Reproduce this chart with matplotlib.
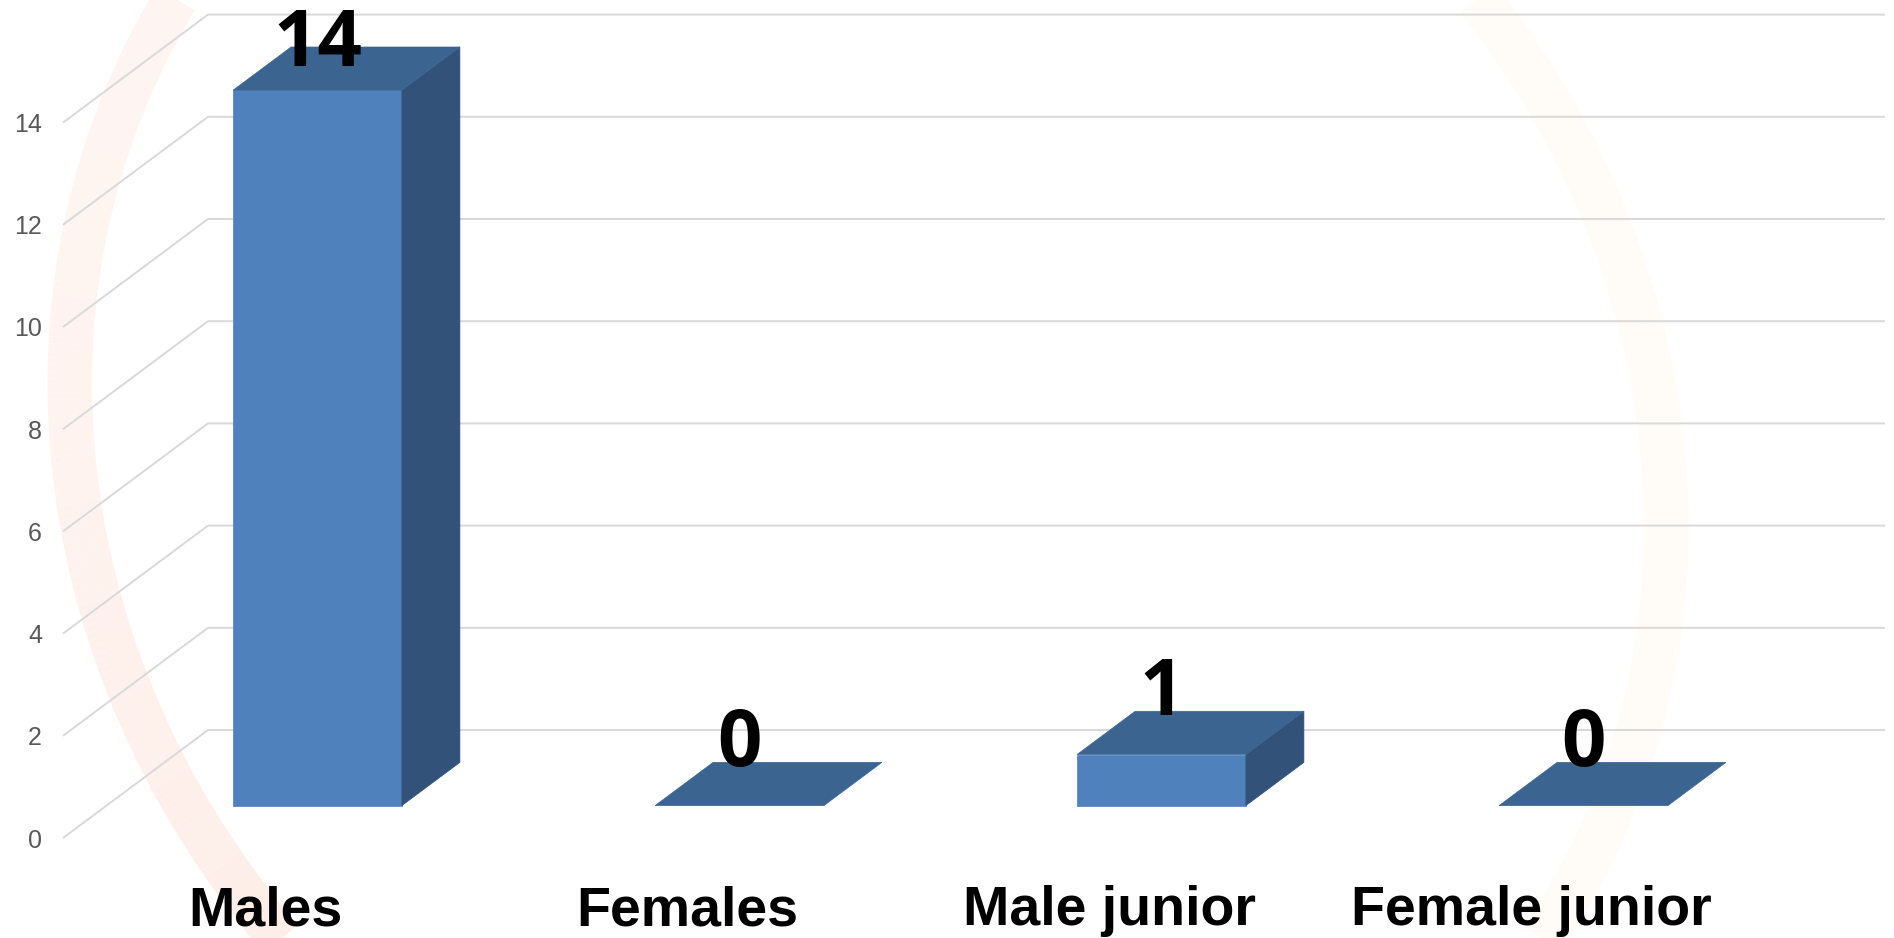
import numpy as np
import matplotlib
matplotlib.use("Agg")
import matplotlib.pyplot as plt
from matplotlib.patches import Polygon
from matplotlib.collections import LineCollection
from matplotlib.colors import to_rgb

categories = ["Males", "Females", "Male junior", "Female junior"]
counts = [14, 0, 1, 0]
value_ticks = [0, 2, 4, 6, 8, 10, 12, 14]

# layout (pixels of the 1894x938 canvas)
W, H = 1894, 938
PX_CAT, PX_VAL = 422.0, 51.1          # px per category step / per value unit
X0_PX, Y0_PX = 274.0, 838.0           # category 0, value 0 on the front of the floor
DEPTH_PX = (145.0, 108.0)             # oblique depth offset of the floor
DX, DY = DEPTH_PX[0] / PX_CAT, DEPTH_PX[1] / PX_VAL
BAR_W, D_FRONT, D_BACK = 0.4, 0.3, 0.7
LABEL_CEIL = 15.1                     # keep value labels inside the top edge

FRONT, SIDE, TOP = "#4f81bd", "#32527a", "#3c6491"
GRID = "#d9d9d9"

fig = plt.figure(figsize=(W / 100, H / 100), dpi=100)

# faint watermark ring in the background (slightly sheared circle)
bg = fig.add_axes([0, 0, 1, 1])
bg.set_xlim(0, W); bg.set_ylim(H, 0); bg.axis("off")
theta = np.linspace(0, 2 * np.pi, 721)
cx, cy, r, shear = 868, 455, 795, 0.09
ys = cy + r * np.sin(theta)
xs = cx + r * np.cos(theta) + shear * (ys - cy)
pts = np.column_stack([xs, ys]).reshape(-1, 1, 2)
segs = np.concatenate([pts[:-1], pts[1:]], axis=1)
stops_deg = [0, 45, 90, 125, 180, 225, 270, 315, 360]
stops_col = ["#fffbf7", "#fffbf6", "#fdefe9", "#fdebe4", "#fef3ef",
             "#fef5f2", "#fef8f5", "#fffbf7", "#fffbf7"]
stops_rgb = np.array([to_rgb(c) for c in stops_col])
mid = np.degrees((theta[:-1] + theta[1:]) / 2)
cols = np.column_stack([np.interp(mid, stops_deg, stops_rgb[:, k]) for k in range(3)])
bg.add_collection(LineCollection(segs, colors=cols, linewidths=32, capstyle="butt"))

ax = fig.add_axes([0, 0, 1, 1])
ax.patch.set_alpha(0)
ax.set_xlim(-X0_PX / PX_CAT, (W - X0_PX) / PX_CAT)
ax.set_ylim((Y0_PX - H) / PX_VAL, Y0_PX / PX_VAL)
ax.axis("off")

# walls: diagonal side-wall lines and horizontal back-wall lines
left = -0.5
right_end = (1885 - X0_PX) / PX_CAT
for v in value_ticks:
    ax.plot([left, left + DX, right_end], [v, v + DY, v + DY],
            color=GRID, lw=1.4, solid_capstyle="butt", zorder=1)
    ax.text(left - 0.05, v, str(v), ha="right", va="center_baseline",
            fontsize=18, color="#595959", family="Liberation Sans")

# bars
for i, v in enumerate(counts):
    x0 = i - BAR_W / 2 + D_FRONT * DX
    x1 = x0 + BAR_W
    yb = D_FRONT * DY
    ox, oy = (D_BACK - D_FRONT) * DX, (D_BACK - D_FRONT) * DY
    if v > 0:
        ax.add_patch(Polygon([(x0, yb), (x1, yb), (x1, yb + v), (x0, yb + v)],
                             closed=True, fc=FRONT, ec=FRONT, lw=0.5, zorder=3))
        ax.add_patch(Polygon([(x1, yb), (x1 + ox, yb + oy), (x1 + ox, yb + oy + v), (x1, yb + v)],
                             closed=True, fc=SIDE, ec=SIDE, lw=0.5, zorder=3))
    ax.add_patch(Polygon([(x0, yb + v), (x1, yb + v), (x1 + ox, yb + oy + v), (x0 + ox, yb + oy + v)],
                         closed=True, fc=TOP, ec=TOP, lw=0.5, zorder=3))
    ly = min(v + D_BACK * DY - 0.08, LABEL_CEIL)
    ax.text(i + D_FRONT * DX, ly, str(v), ha="center", va="baseline",
            fontsize=56, fontweight="bold", family="Open Sans", color="black", zorder=5)

# category labels
for i, name in enumerate(categories):
    ax.text(i - 0.02, (Y0_PX - 925) / PX_VAL, name, ha="center", va="baseline",
            fontsize=40, fontweight="bold", family="Liberation Sans", color="black")

fig.savefig("out.png", dpi=100)
